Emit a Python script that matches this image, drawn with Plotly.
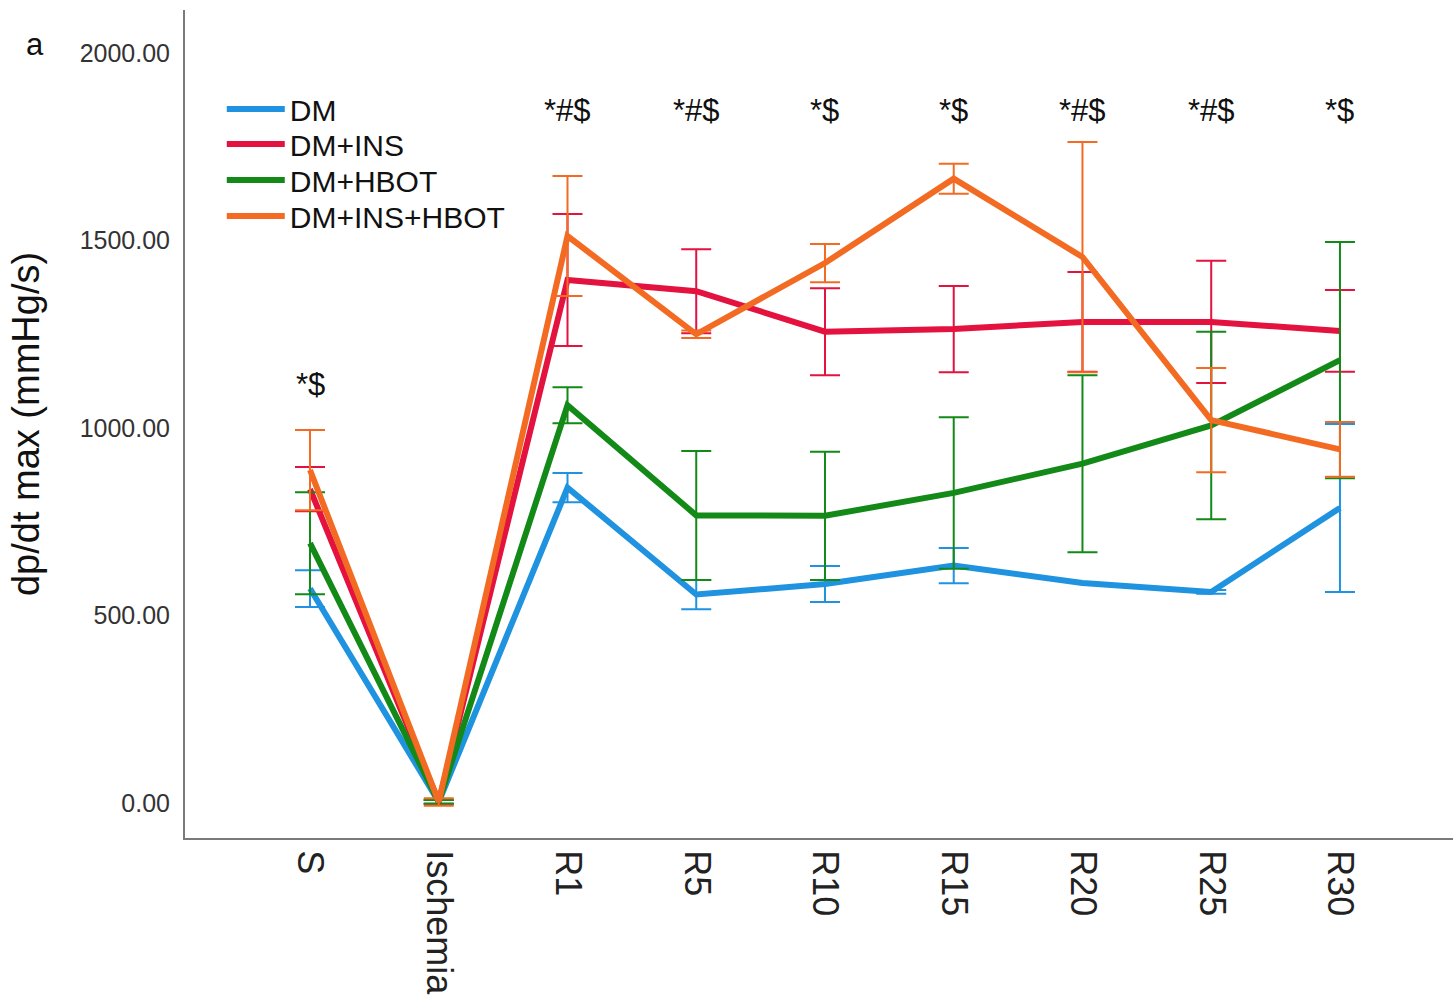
import plotly.graph_objects as go

# Time points of the protocol
categories = ["S", "Ischemia", "R1", "R5", "R10", "R15", "R20", "R25", "R30"]

# dp/dt max (mmHg/s), mean and error per group
dm = [572, 3, 841, 556, 584, 633, 587, 563, 787]
dm_err = [49, 5, 39, 39, 48, 47, None, 5, 224]

dm_ins = [837, 3, 1395, 1365, 1257, 1264, 1283, 1283, 1259]
dm_ins_err = [59, 5, 176, 112, 116, 115, 133, 163, 109]

dm_hbot = [693, 3, 1061, 767, 766, 827, 905, 1007, 1181]
dm_hbot_err = [136, 5, 48, 172, 171, 202, 236, 250, 315]

dm_ins_hbot = [888, 3, 1512, 1250, 1440, 1665, 1456, 1021, 943]
dm_ins_hbot_err = [107, 10, 160, 10, 51, 40, 307, 139, 73]

# Significance marks above each time point
sig_labels = ["*$", "", "*#$", "*#$", "*$", "*$", "*#$", "*#$", "*$"]
sig_y = [1115, None, 1848, 1848, 1848, 1848, 1848, 1848, 1848]

groups = [
    ("DM", dm, dm_err, "#1f93e0"),
    ("DM+INS", dm_ins, dm_ins_err, "#e3123f"),
    ("DM+HBOT", dm_hbot, dm_hbot_err, "#138a17"),
    ("DM+INS+HBOT", dm_ins_hbot, dm_ins_hbot_err, "#f36b22"),
]

FONT = "Liberation Sans, Arial, sans-serif"
x_idx = list(range(len(categories)))

# one small legend per group so the rows can sit close together
legend_ids = ["legend", "legend2", "legend3", "legend4"]
legend_rows_px = [109, 144, 180, 216]
plot_top, plot_bottom = 10, 838

fig = go.Figure()
for (name, vals, errs, color), lid in zip(groups, legend_ids):
    fig.add_trace(go.Scatter(
        x=x_idx, y=vals, name=name, mode="lines", legend=lid,
        line=dict(color=color, width=6),
        error_y=dict(type="data", array=errs, visible=True,
                     color=color, thickness=2, width=15),
    ))

for i, (lab, yv) in enumerate(zip(sig_labels, sig_y)):
    if lab and yv is not None:
        fig.add_annotation(x=i, y=yv, text=lab, showarrow=False,
                           font=dict(family=FONT, size=31, color="#111"),
                           xanchor="center", yanchor="middle")

# Panel letter
fig.add_annotation(xref="paper", yref="paper", x=-0.118, y=0.958, text="a",
                   showarrow=False, font=dict(family=FONT, size=31, color="#111"),
                   xanchor="center", yanchor="middle")

legend_layout = {}
for lid, ypx in zip(legend_ids, legend_rows_px):
    legend_layout[lid] = dict(
        x=0.029, y=(plot_bottom - ypx) / (plot_bottom - plot_top),
        xanchor="left", yanchor="middle",
        bgcolor="rgba(0,0,0,0)", itemwidth=58,
        font=dict(family=FONT, size=30, color="#111"),
    )

fig.update_layout(
    width=1453, height=1003,
    margin=dict(l=185, r=0, t=plot_top, b=1003 - plot_bottom),
    paper_bgcolor="white", plot_bgcolor="white",
    font=dict(family=FONT, color="#222"),
    showlegend=True,
    **legend_layout,
)

fig.update_xaxes(
    range=[-0.971, 8.878], tickmode="array", tickvals=x_idx, ticktext=categories,
    tickangle=90, showgrid=False, zeroline=False,
    showline=True, linecolor="#7a7a7a", linewidth=2,
    ticks="", ticklabelstandoff=3,
    tickfont=dict(family=FONT, size=36, color="#222"),
)
fig.update_yaxes(
    range=[-93.3, 2114.7], tickvals=[0, 500, 1000, 1500, 2000],
    tickformat=".2f", showgrid=False, zeroline=False,
    showline=True, linecolor="#7a7a7a", linewidth=2,
    ticks="", ticklabelstandoff=8,
    tickfont=dict(family=FONT, size=25, color="#333"),
    title=dict(text="dp/dt max (mmHg/s)", standoff=28,
               font=dict(family=FONT, size=38, color="#111")),
)

fig.write_html("out.html")
